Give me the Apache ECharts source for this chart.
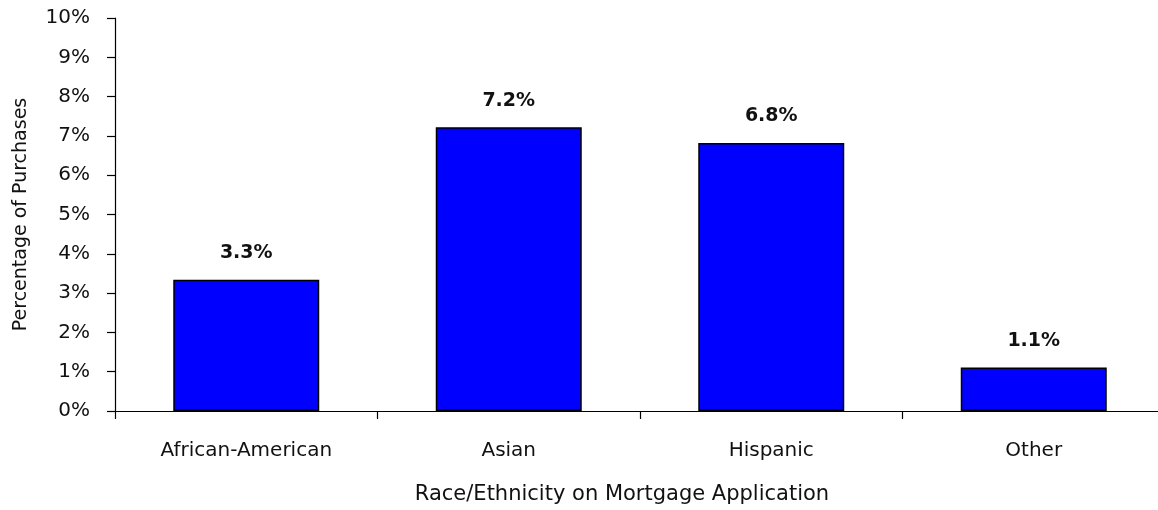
<!DOCTYPE html>
<html>
<head>
<meta charset="utf-8">
<script src="https://cdn.jsdelivr.net/npm/echarts@6/dist/echarts.min.js"></script>
<style>
html,body{margin:0;padding:0;background:#fff;overflow:hidden;width:1158px;height:510px;}
#chart{width:1166px;height:510px;}
</style>
</head>
<body>
<div id="chart"></div>
<script>
const categories = ['African-American', 'Asian', 'Hispanic', 'Other'];
const values = [3.34, 7.22, 6.82, 1.11];
const yTicks = { min: 0, max: 10, interval: 1 };
const xTitle = 'Race/Ethnicity on Mortgage Application';
const yTitle = 'Percentage of Purchases';

const font = 'DejaVu Sans';
const chart = echarts.init(document.getElementById('chart'), null, { renderer: 'canvas' });
chart.setOption({
  animation: false,
  backgroundColor: '#ffffff',
  grid: { left: 115, top: 18, height: 394, width: 1050, containLabel: false },
  xAxis: {
    type: 'category',
    data: categories,
    boundaryGap: true,
    name: xTitle,
    nameLocation: 'middle',
    nameGap: 73,
    nameTextStyle: { fontFamily: font, fontSize: 21, color: '#111', padding: [0, 36, 0, 0] },
    axisLine: { show: true, lineStyle: { color: '#000', width: 1.2 } },
    axisTick: { show: true, length: 8, alignWithLabel: false, lineStyle: { color: '#000', width: 1.2 } },
    axisLabel: { fontFamily: font, fontSize: 20, color: '#111', margin: 30 },
    splitLine: { show: false }
  },
  yAxis: {
    type: 'value',
    min: yTicks.min,
    max: yTicks.max,
    interval: yTicks.interval,
    name: yTitle,
    nameLocation: 'middle',
    nameGap: 84,
    nameTextStyle: { fontFamily: font, fontSize: 19, color: '#111' },
    axisLine: { show: true, lineStyle: { color: '#000', width: 1.2 } },
    axisTick: { show: true, length: 8, lineStyle: { color: '#000', width: 1.2 } },
    axisLabel: { fontFamily: font, fontSize: 20, color: '#111', margin: 25, formatter: '{value}%' },
    splitLine: { show: false }
  },
  series: [{
    type: 'bar',
    data: values,
    barWidth: 146,
    itemStyle: { color: '#0000ff', borderColor: '#000', borderWidth: 1.5 },
    label: {
      show: true,
      position: 'top',
      distance: 17,
      fontFamily: font,
      fontSize: 19,
      fontWeight: 'bold',
      color: '#111',
      formatter: p => p.value.toFixed(1) + '%'
    }
  }]
});
</script>
</body>
</html>
